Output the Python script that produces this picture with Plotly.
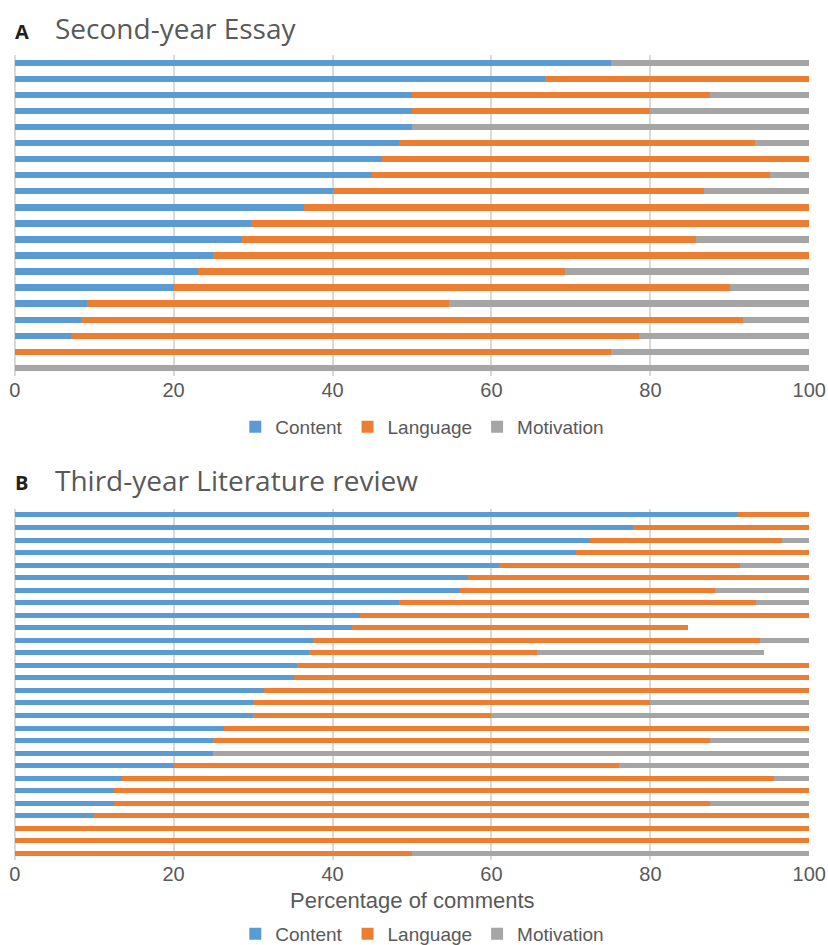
import plotly.graph_objects as go

W, H = 828, 945

# ---- Panel A: Second-year Essay (rows listed top to bottom) ----
essay_ids = ["E1", "E2", "E3", "E4", "E5", "E6", "E7", "E8", "E9", "E10",
             "E11", "E12", "E13", "E14", "E15", "E16", "E17", "E18", "E19", "E20"]
essay_content = [75, 66.7, 50, 50, 50, 48.4, 46.2, 45, 40, 36.4,
                 29.8, 28.6, 25, 23.1, 20, 9.1, 8.3, 7.1, 0, 0]
essay_language = [0, 33.3, 37.5, 30, 0, 44.8, 53.8, 50, 46.7, 63.6,
                  70.2, 57.1, 75, 46.1, 70, 45.5, 83.4, 71.5, 75, 0]
essay_motivation = [25, 0, 12.5, 20, 50, 6.8, 0, 5, 13.3, 0,
                    0, 14.3, 0, 30.8, 10, 45.4, 8.3, 21.4, 25, 100]

# ---- Panel B: Third-year Literature review (rows listed top to bottom) ----
review_ids = ["R1", "R2", "R3", "R4", "R5", "R6", "R7", "R8", "R9", "R10",
              "R11", "R12", "R13", "R14", "R15", "R16", "R17", "R18", "R19", "R20",
              "R21", "R22", "R23", "R24", "R25", "R26", "R27", "R28"]
review_content = [91, 77.8, 72.4, 70.6, 60.9, 57.1, 56.1, 48.4, 43.4, 42.4,
                  37.6, 37.1, 35.5, 35.1, 31.4, 30, 30, 26.3, 25, 25,
                  20, 13.5, 12.5, 12.5, 10, 0, 0, 0]
review_language = [9, 22.2, 24.2, 29.4, 30.4, 42.9, 32.0, 44.9, 56.6, 42.3,
                   56.2, 28.6, 64.5, 64.9, 68.6, 50, 30, 73.7, 62.5, 0,
                   56.1, 82.1, 87.5, 75, 90, 100, 100, 50]
review_motivation = [0, 0, 3.4, 0, 8.7, 0, 11.9, 6.7, 0, 0,
                     6.2, 28.6, 0, 0, 0, 20, 40, 0, 12.5, 75,
                     23.9, 4.4, 0, 12.5, 0, 0, 0, 50]

series_names = ["Content", "Language", "Motivation"]
colors = ["#5B9BD5", "#ED7D31", "#A5A5A5"]
x_ticks = [0, 20, 40, 60, 80, 100]

SANS = "Liberation Sans, Arial, sans-serif"
TITLE_FONT = "Open Sans, Liberation Sans, sans-serif"
TXT = "#595959"

fig = go.Figure()

for name, col, vals in zip(series_names, colors,
                           [essay_content, essay_language, essay_motivation]):
    fig.add_trace(go.Bar(y=essay_ids, x=vals, name=name, orientation="h",
                         marker=dict(color=col, line=dict(width=0)),
                         xaxis="x", yaxis="y", legend="legend"))

for name, col, vals in zip(series_names, colors,
                           [review_content, review_language, review_motivation]):
    fig.add_trace(go.Bar(y=review_ids, x=vals, name=name, orientation="h",
                         marker=dict(color=col, line=dict(width=0)),
                         xaxis="x2", yaxis="y2", legend="legend2"))

xdom = [14.7 / W, 809.3 / W]
xax = dict(range=[0, 100], tickvals=x_ticks, showgrid=True, gridcolor="#D9D9D9",
           gridwidth=2, zeroline=True, zerolinecolor="#D9D9D9", zerolinewidth=2,
           showline=False, ticks="", tickfont=dict(family=SANS, size=20, color=TXT),
           fixedrange=True, domain=xdom, automargin=False)
yax = dict(showticklabels=False, showgrid=False, zeroline=False, showline=False,
           ticks="", autorange="reversed", type="category", automargin=False)

leg = dict(orientation="h", x=0.51, xanchor="center", yanchor="middle",
           font=dict(family=SANS, size=19, color=TXT), itemwidth=30,
           traceorder="normal", bgcolor="rgba(0,0,0,0)")

fig.update_layout(
    width=W, height=H,
    margin=dict(l=0, r=0, t=0, b=0, autoexpand=False),
    paper_bgcolor="white", plot_bgcolor="white",
    barmode="stack", bargap=0.6,
    xaxis=dict(xax, anchor="y"),
    yaxis=dict(yax, domain=[1 - 376 / H, 1 - 54.7 / H], anchor="x"),
    xaxis2=dict(xax, anchor="y2"),
    yaxis2=dict(yax, domain=[1 - 859.6 / H, 1 - 508.7 / H], anchor="x2"),
    legend=dict(leg, y=1 - 427 / H),
    legend2=dict(leg, y=1 - 934 / H),
    showlegend=True,
)

annotations = [
    dict(text="<b>A</b>", x=13 / W, y=1 - 31 / H, xref="paper", yref="paper",
         xanchor="left", yanchor="middle", showarrow=False,
         font=dict(family=TITLE_FONT, size=20, color="#231F20")),
    dict(text="Second-year Essay", x=53 / W, y=1 - 28 / H, xref="paper", yref="paper",
         xanchor="left", yanchor="middle", showarrow=False,
         font=dict(family=TITLE_FONT, size=28, color=TXT)),
    dict(text="<b>B</b>", x=13 / W, y=1 - 483 / H, xref="paper", yref="paper",
         xanchor="left", yanchor="middle", showarrow=False,
         font=dict(family=TITLE_FONT, size=20, color="#231F20")),
    dict(text="Third-year Literature review", x=53 / W, y=1 - 480 / H, xref="paper", yref="paper",
         xanchor="left", yanchor="middle", showarrow=False,
         font=dict(family=TITLE_FONT, size=28, color=TXT)),
    dict(text="Percentage of comments", x=(14.7 + 809.3) / 2 / W, y=1 - 900 / H,
         xref="paper", yref="paper", xanchor="center", yanchor="middle", showarrow=False,
         font=dict(family=SANS, size=22, color=TXT)),
]
fig.update_layout(annotations=annotations)

fig.write_html("out.html", config={"displayModeBar": False},
               post_script="document.body.style.margin='0';document.body.style.overflow='hidden';")
